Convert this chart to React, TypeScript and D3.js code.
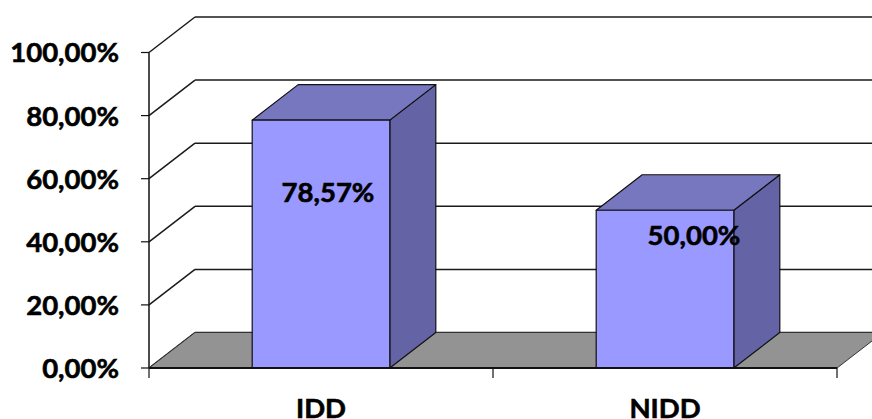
import * as d3 from "d3";

const categories = ["IDD", "NIDD"];
const values = [78.57, 50.0];
const valueLabels = ["78,57%", "50,00%"];
const yTicks = [0, 20, 40, 60, 80, 100];
const yTickLabels = ["0,00%", "20,00%", "40,00%", "60,00%", "80,00%", "100,00%"];

// layout
const W = 872;
const H = 419;
const depth = { dx: 46, dy: -35.5 };
const labelNudge = [
  { dx: 7, dy: 72 },
  { dx: 29, dy: 25 },
];
const font = "Lato, 'Open Sans', sans-serif";
const fs = 27.5;

function App() {
  const y = d3.scaleLinear().domain([0, 100]).range([368, 52.5]);
  const x = d3
    .scaleBand()
    .domain(categories)
    .range([149, 837])
    .paddingInner(0.6)
    .paddingOuter(0.3);
  const step = x.step();
  const x0 = 149;
  const x1 = 837;
  const { dx, dy } = depth;
  const bw = x.bandwidth();

  const pts = (p: number[][]) => p.map((d) => d.join(",")).join(" ");

  // bold text, slightly thickened to get closer to the heavy look
  const txt = { fontWeight: "bold", fontSize: fs, fill: "#000", stroke: "#000", strokeWidth: 0.6 } as const;

  return (
    <svg
      width={W}
      height={H}
      style={{ position: "absolute", left: 0, top: 0, background: "#fff" }}
      fontFamily={font}
    >
      {/* back wall gridlines + left wall diagonals */}
      {yTicks.map((t) => (
        <g key={t} stroke="#1a1a1a" strokeWidth={1.5} fill="none">
          <line x1={x0 + dx} x2={x1 + dx + 50} y1={y(t) + dy} y2={y(t) + dy} />
          <line x1={x0} y1={y(t)} x2={x0 + dx} y2={y(t) + dy} />
        </g>
      ))}

      {/* floor */}
      <polygon
        points={pts([
          [x0, y(0)],
          [x0 + dx, y(0) + dy],
          [x1 + dx, y(0) + dy],
          [x1, y(0)],
        ])}
        fill="#939393"
        stroke="#333"
        strokeWidth={1}
      />

      {/* bars */}
      {categories.map((c, i) => {
        const bx = x(c) as number;
        const top = y(values[i]);
        const base = y(0);
        return (
          <g key={c} stroke="#111" strokeWidth={1.2} strokeLinejoin="round">
            <polygon
              points={pts([
                [bx + bw, top],
                [bx + bw + dx, top + dy],
                [bx + bw + dx, base + dy],
                [bx + bw, base],
              ])}
              fill="#6363a5"
            />
            <polygon
              points={pts([
                [bx, top],
                [bx + dx, top + dy],
                [bx + bw + dx, top + dy],
                [bx + bw, top],
              ])}
              fill="#7777c0"
            />
            <rect x={bx} y={top} width={bw} height={base - top} fill="#9999ff" />
          </g>
        );
      })}

      {/* front axis lines */}
      <line x1={x0} x2={x0} y1={y(100)} y2={y(0)} stroke="#111" strokeWidth={1.5} />
      <line x1={x0} x2={x1} y1={y(0)} y2={y(0)} stroke="#111" strokeWidth={2} />
      {yTicks.map((t) => (
        <line key={t} x1={x0 - 8} x2={x0} y1={y(t)} y2={y(t)} stroke="#111" strokeWidth={1.2} />
      ))}
      {[0, 1, 2].map((k) => (
        <line
          key={k}
          x1={x0 + k * step}
          x2={x0 + k * step}
          y1={y(0)}
          y2={y(0) + 10}
          stroke="#111"
          strokeWidth={1.2}
        />
      ))}

      {/* y tick labels */}
      {yTicks.map((t, i) => (
        <text key={t} x={119} y={y(t)} dy="0.36em" textAnchor="end" {...txt}>
          {yTickLabels[i]}
        </text>
      ))}

      {/* value labels */}
      {categories.map((c, i) => (
        <text
          key={c}
          x={(x(c) as number) + bw / 2 + labelNudge[i].dx}
          y={y(values[i]) + labelNudge[i].dy}
          dy="0.36em"
          textAnchor="middle"
          {...txt}
        >
          {valueLabels[i]}
        </text>
      ))}

      {/* category labels */}
      {categories.map((c) => (
        <text key={c} x={(x(c) as number) + bw / 2} y={418} textAnchor="middle" {...txt}>
          {c}
        </text>
      ))}
    </svg>
  );
}

export default App;
